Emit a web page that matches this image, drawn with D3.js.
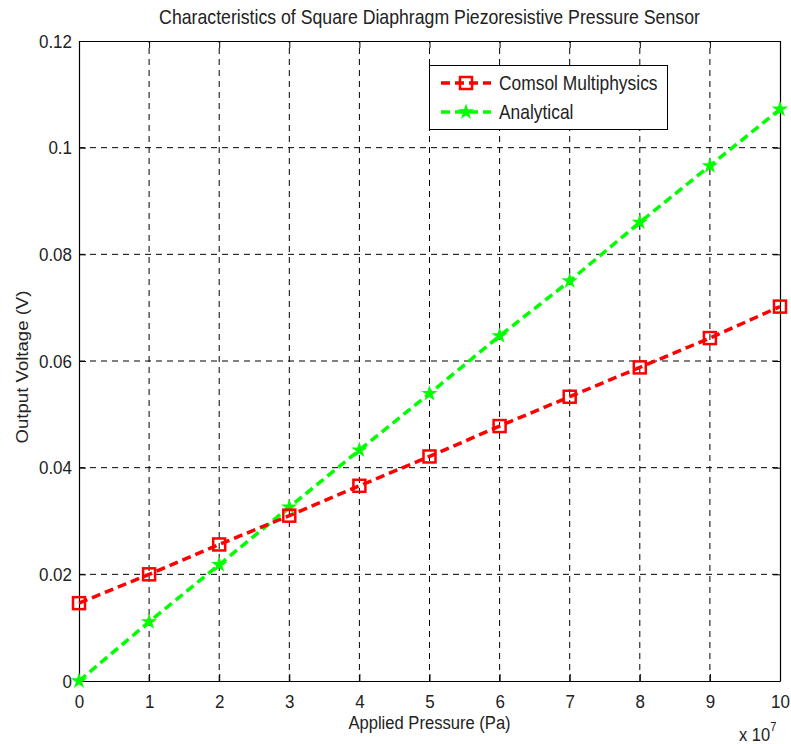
<!DOCTYPE html>
<html>
<head>
<meta charset="utf-8">
<script src="https://cdn.jsdelivr.net/npm/d3@7"></script>
<style>
  body { margin: 0; background: #fff; }
  svg text { font-family: "Liberation Sans", Arial, sans-serif; fill: #222; }
</style>
</head>
<body>
<script>
// Dati
const pressure = [0, 1, 2, 3, 4, 5, 6, 7, 8, 9, 10]; // x 10^7 Pa
const comsol = [0.0146, 0.0200, 0.0256, 0.0310, 0.0366, 0.0421, 0.0478, 0.0533, 0.0588, 0.0643, 0.0702];
const analytical = [0, 0.0111, 0.0218, 0.0326, 0.0433, 0.0539, 0.0647, 0.0750, 0.0860, 0.0966, 0.1072];
const xTicks = [0, 1, 2, 3, 4, 5, 6, 7, 8, 9, 10];
const yTicks = [0, 0.02, 0.04, 0.06, 0.08, 0.1, 0.12];
const seriesNames = ["Comsol Multiphysics", "Analytical"];

const width = 791;
const height = 744;
const marginLeft = 79;
const marginRight = 11;
const marginTop = 41;
const marginBottom = 63;
const stretch = 1.12; // il testo dell'originale e' leggermente allungato in verticale

const svg = d3.create("svg")
  .attr("width", width)
  .attr("height", height);

const xScale = d3.scaleLinear()
  .domain([0, 10])
  .range([marginLeft, width - marginRight]);

const yScale = d3.scaleLinear()
  .domain([0, 0.12])
  .range([height - marginBottom, marginTop]);

const x0 = xScale.range()[0], x1 = xScale.range()[1];
const y0 = yScale.range()[0], y1 = yScale.range()[1];

// Testo con allungamento verticale
function label(x, y, txt, size, anchor, rot) {
  return svg.append("text")
    .attr("transform", "translate(" + x + "," + y + ")" + (rot ? " rotate(" + rot + ")" : "") + (rot ? " scale(" + stretch + ",1)" : " scale(1," + stretch + ")"))
    .attr("text-anchor", anchor || "middle")
    .attr("font-size", size)
    .text(txt);
}

// Griglia tratteggiata
svg.append("g")
  .selectAll("line")
  .data(xTicks.slice(1, -1))
  .join("line")
  .attr("x1", d => xScale(d)).attr("x2", d => xScale(d))
  .attr("y1", y0).attr("y2", y1)
  .attr("stroke", "#000").attr("stroke-width", 1)
  .attr("stroke-dasharray", "6,5");

svg.append("g")
  .selectAll("line")
  .data(yTicks.slice(1, -1))
  .join("line")
  .attr("x1", x0).attr("x2", x1)
  .attr("y1", d => yScale(d)).attr("y2", d => yScale(d))
  .attr("stroke", "#000").attr("stroke-width", 1)
  .attr("stroke-dasharray", "6,5");

// Assi (stile MATLAB: tick verso l'interno)
svg.append("g")
  .attr("transform", "translate(0," + y0 + ")")
  .call(d3.axisBottom(xScale).tickValues(xTicks).tickSizeInner(-7).tickSizeOuter(0).tickPadding(12).tickFormat(d3.format("d")))
  .call(g => g.select(".domain").attr("stroke-width", 1.2))
  .call(g => g.selectAll("text").attr("font-size", 17).attr("transform", "scale(1," + stretch + ")"));

svg.append("g")
  .attr("transform", "translate(0," + y1 + ")")
  .call(d3.axisTop(xScale).tickValues(xTicks).tickSizeInner(-7).tickSizeOuter(0).tickFormat(""))
  .call(g => g.select(".domain").attr("stroke-width", 1.2));

svg.append("g")
  .attr("transform", "translate(" + x0 + ",0)")
  .call(d3.axisLeft(yScale).tickValues(yTicks).tickSizeInner(-7).tickSizeOuter(0).tickPadding(7).tickFormat(d => d === 0 ? "0" : d3.format(".2~f")(d)))
  .call(g => g.select(".domain").attr("stroke-width", 1.2))
  .call(g => g.selectAll("text").attr("font-size", 17).attr("transform", "scale(1," + stretch + ")"));

svg.append("g")
  .attr("transform", "translate(" + x1 + ",0)")
  .call(d3.axisRight(yScale).tickValues(yTicks).tickSizeInner(-7).tickSizeOuter(0).tickFormat(""))
  .call(g => g.select(".domain").attr("stroke-width", 1.2));

// Linee dei dati
const line = d3.line().x(d => xScale(d[0])).y(d => yScale(d[1]));

const comsolData = pressure.map((p, i) => [p, comsol[i]]);
const analyticalData = pressure.map((p, i) => [p, analytical[i]]);

svg.append("path")
  .datum(analyticalData)
  .attr("d", line)
  .attr("fill", "none")
  .attr("stroke", "#00ff00")
  .attr("stroke-width", 3.5)
  .attr("stroke-dasharray", "9,5");

svg.append("path")
  .datum(comsolData)
  .attr("d", line)
  .attr("fill", "none")
  .attr("stroke", "#ff0000")
  .attr("stroke-width", 3.5)
  .attr("stroke-dasharray", "9,5");

// Marcatori
function drawSquare(g, cx, cy) {
  g.append("rect")
    .attr("x", cx - 6).attr("y", cy - 6)
    .attr("width", 12).attr("height", 12)
    .attr("fill", "none")
    .attr("stroke", "#ff0000")
    .attr("stroke-width", 2.5);
}

function drawStar(g, cx, cy) {
  g.append("path")
    .attr("d", d3.symbol(d3.symbolStar, 32)())
    .attr("transform", "translate(" + cx + "," + cy + ")")
    .attr("fill", "#00ff00")
    .attr("stroke", "#00ff00")
    .attr("stroke-width", 2);
}

const markers = svg.append("g");
analyticalData.forEach(d => drawStar(markers, xScale(d[0]), yScale(d[1])));
comsolData.forEach(d => drawSquare(markers, xScale(d[0]), yScale(d[1])));

// Legenda
const legend = svg.append("g");
legend.append("rect")
  .attr("x", 429.5).attr("y", 65.5)
  .attr("width", 238).attr("height", 64)
  .attr("fill", "#fff")
  .attr("stroke", "#000").attr("stroke-width", 1);

const legendRows = [
  { name: seriesNames[0], color: "#ff0000", y: 83, marker: drawSquare },
  { name: seriesNames[1], color: "#00ff00", y: 112, marker: drawStar }
];

legendRows.forEach(r => {
  legend.append("line")
    .attr("x1", 441).attr("x2", 491)
    .attr("y1", r.y).attr("y2", r.y)
    .attr("stroke", r.color).attr("stroke-width", 3.5)
    .attr("stroke-dasharray", "9,5");
  r.marker(legend, 466, r.y);
  legend.append("text")
    .attr("transform", "translate(499," + (r.y + 6.5) + ") scale(1," + stretch + ")")
    .attr("font-size", 17.4)
    .text(r.name);
});

// Titolo ed etichette
label((x0 + x1) / 2, 24, "Characteristics of Square Diaphragm Piezoresistive Pressure Sensor", 17.7);
label((x0 + x1) / 2, 729, "Applied Pressure (Pa)", 16.6);
label(28, (y0 + y1) / 2 + 6, "Output Voltage (V)", 16.6, "middle", -90);

const expo = svg.append("text")
  .attr("transform", "translate(739,741) scale(1," + stretch + ")")
  .attr("font-size", 16.5);
expo.append("tspan").text("x 10");
expo.append("tspan").attr("dy", -9).attr("font-size", 11).text("7");

document.body.appendChild(svg.node());
</script>
</body>
</html>
